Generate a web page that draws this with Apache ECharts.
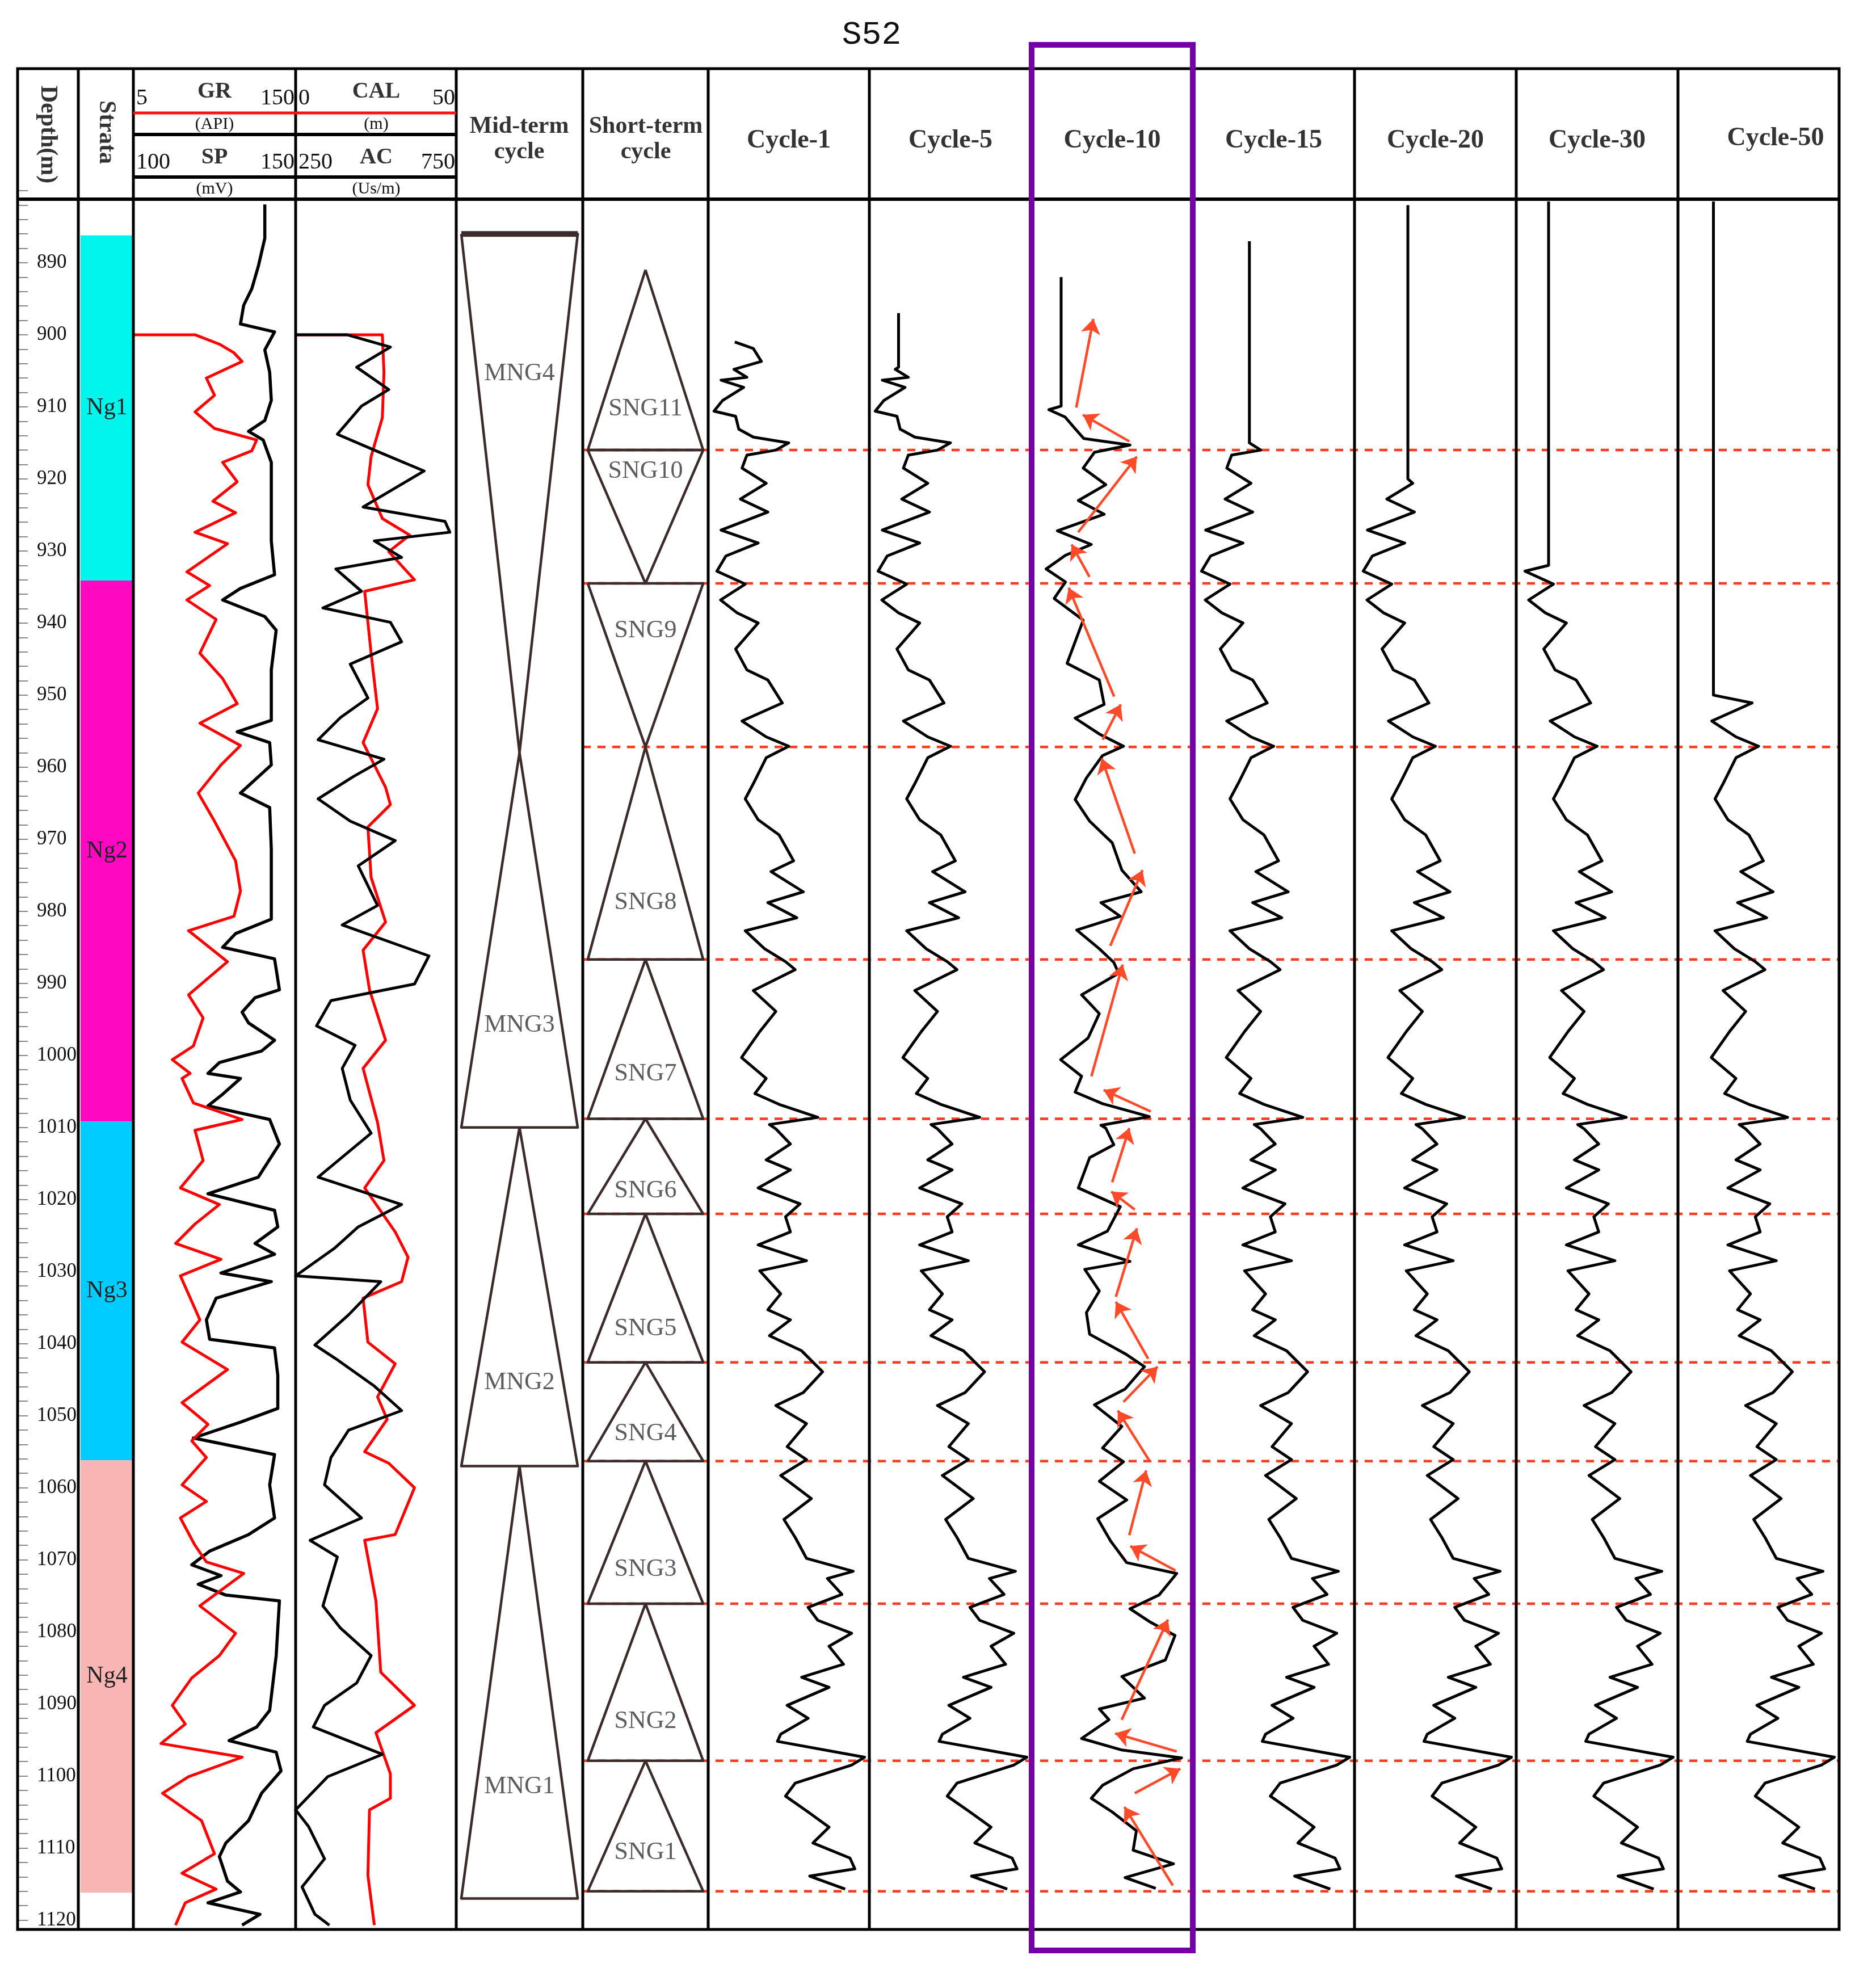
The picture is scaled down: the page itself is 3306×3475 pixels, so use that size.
<!DOCTYPE html>
<html><head><meta charset="utf-8">
<script src="https://cdn.jsdelivr.net/npm/echarts@6/dist/echarts.min.js"></script>
<style>html,body{margin:0;padding:0;background:#fff}#c{width:3306px;height:3475px}</style>
</head><body><div id="c"></div>
<script>
// ---------- DATA (depth m, value as % of track width) ----------
const depthTicks = [890,900,910,920,930,940,950,960,970,980,990,1000,1010,1020,1030,1040,1050,1060,1070,1080,1090,1100,1110,1120];
const strata = [['Ng1',886.2,934.1,'#00F5EC'],['Ng2',934.1,1009.2,'#FF08C2'],['Ng3',1009.2,1056.2,'#00CCFF'],['Ng4',1056.2,1116.2,'#F9B4B4']];
const spCurve = [[881.9,81],[886.6,81],[890.5,77],[893.6,73],[895.9,68],[898.5,66],[899.6,87],[902.1,81],[905.2,84],[909.1,85],[911.9,81],[913.4,71],[914.6,80],[917.7,85],[922.4,85],[928.6,85],[933.3,87],[935.2,66],[936.8,55],[939.1,81],[941,88],[946.5,85],[953.5,85],[955.1,64],[956.6,84],[959.7,85],[963.6,66],[965.6,84],[971.4,85],[981.1,85],[983.1,63],[985,55],[986.6,87],[990.9,90],[992,75],[994,67],[995.5,71],[997.9,87],[999.4,79],[1001,53],[1002.5,46],[1003.2,66],[1005.4,55],[1007,46],[1008.9,84],[1012.3,90],[1016.9,77],[1019.2,46],[1021.5,87],[1023.8,89],[1026.1,75],[1027.6,87],[1030.2,54],[1031.4,85],[1033.7,51],[1036.7,45],[1039.4,47],[1040.6,87],[1044.4,89],[1049,89],[1050.9,66],[1053.1,37],[1055.4,87],[1059.6,84],[1064.2,87],[1066.5,71],[1068.8,47],[1070.7,36],[1072.2,54],[1073.4,40],[1074.9,57],[1075.7,90],[1083.3,88],[1090.9,84],[1093.2,76],[1095.1,59],[1096.7,88],[1099.3,91],[1102.4,79],[1106.2,71],[1109.3,57],[1111.2,53],[1114.6,58],[1116.1,66],[1117.6,46],[1119.2,78],[1120.7,67]];
const grCurve = [[900,0],[900,38],[901.3,53],[902.5,62],[903.7,67],[906,45],[908.4,50],[910.7,38],[913,50],[914.6,76],[916.1,73],[917.7,55],[920.4,64],[923.1,49],[924.7,63],[927.4,38],[929,58],[932.9,33],[934.8,47],[936.8,33],[939.5,51],[944.2,41],[947.7,55],[951.2,64],[953.9,41],[957,66],[959.7,54],[963.6,40],[967.5,50],[973,63],[977.2,66],[980.7,62],[982.7,34],[987,58],[991.6,34],[994.8,43],[998.7,37],[1000.6,24],[1002.5,35],[1003.2,30],[1006.6,37],[1008.9,67],[1010.4,38],[1014.6,43],[1018.4,29],[1020.7,53],[1023.4,38],[1026.1,26],[1028.3,54],[1030.6,29],[1036.7,41],[1039.8,30],[1043.6,58],[1048.2,30],[1051.2,46],[1053.5,36],[1055.8,45],[1059.6,30],[1061.9,45],[1064.2,29],[1068,38],[1070.3,45],[1071.9,68],[1076.4,41],[1080.2,63],[1083.3,53],[1086.4,36],[1090.2,24],[1092.8,32],[1095.5,17],[1097.4,67],[1100.1,34],[1102.4,18],[1106.2,42],[1110.8,50],[1113.5,30],[1115.7,51],[1117.6,32],[1120.7,26]];
const acCurve = [[900,0],[900,32],[901.7,59],[904.5,38],[907.6,58],[909.9,41],[913.8,26],[916.1,50],[918.9,80],[923.9,42],[925.9,93],[927.4,96],[928.6,49],[930.9,66],[932.5,25],[935.6,41],[937.9,17],[939.9,59],[942.6,66],[945.7,34],[950.4,45],[953.1,28],[956.2,14],[958.9,55],[961.3,36],[964.4,14],[967.5,34],[970.2,62],[973.7,39],[979.2,51],[981.9,29],[986.2,83],[990.1,74],[992.4,22],[995.9,13],[998.6,37],[1001.8,29],[1006.2,34],[1010.8,47],[1016.9,14],[1020.7,66],[1023.8,39],[1026.8,24],[1030.6,0],[1031.4,53],[1036,33],[1040.2,12],[1042.1,25],[1045.9,49],[1049.3,66],[1052,33],[1055.8,22],[1059.6,18],[1064.2,41],[1067.3,9],[1069.6,26],[1074.1,20],[1076.4,17],[1079.5,28],[1083.3,47],[1087.1,38],[1090.2,18],[1093.2,11],[1097,54],[1100.1,20],[1104.7,0],[1107,8],[1111.5,18],[1115.4,4],[1119.2,12],[1120.7,21]];
const calCurve = [[900,0],[900,54],[905.2,55],[911.5,54],[916.9,47],[920.8,45],[925.5,54],[927.8,71],[930.1,58],[934,74],[935.6,43],[944.2,47],[951.9,51],[956.6,42],[962.8,56],[965.2,59],[968.3,45],[975.3,47],[981.5,56],[985.4,42],[990.9,46],[997.9,56],[1001.8,42],[1009.3,51],[1014.6,55],[1018.4,43],[1024.5,62],[1028,70],[1031.4,66],[1033.7,42],[1039.8,45],[1042.8,62],[1047.4,51],[1050.5,57],[1055,43],[1056.6,58],[1060,74],[1066.5,62],[1067.3,43],[1075.7,50],[1085.6,53],[1090.2,74],[1094,50],[1099.7,59],[1103.1,59],[1104.7,46],[1113.8,45],[1120.7,49]];
const midCycles = [['MNG4',886,958,'down',905.4],['MNG3',958,1010,'up',995.8],['MNG2',1010,1057,'up',1045.4],['MNG1',1057,1117,'up',1101.5]];
const shortCycles = [['SNG11',891,916,'up',910.3],['SNG10',916,934.5,'down',918.9],['SNG9',934.5,957.2,'down',941.1],['SNG8',957.2,986.7,'up',978.8],['SNG7',986.7,1008.8,'up',1002.6],['SNG6',1008.8,1022,'up',1018.8],['SNG5',1022,1042.6,'up',1037.9],['SNG4',1042.6,1056.3,'up',1052.5],['SNG3',1056.3,1076.1,'up',1071.3],['SNG2',1076.1,1097.9,'up',1092.4],['SNG1',1097.9,1116,'up',1110.6]];
const boundaries = [916,934.5,957.2,986.7,1008.8,1022,1042.6,1056.3,1076.1,1097.9,1116];
const cycle1Curve = [[901,16.5],[901.9,28],[903.7,33],[904.8,16],[905.9,24],[906.3,8],[907.3,22],[909.1,9],[910.6,3.6],[911.3,17],[913.1,19],[914.2,28],[915,50],[916,42],[916.7,24],[918.5,21],[920.6,36],[922.8,20],[924.6,37],[927.1,8],[928.9,31],[930.7,11],[932.8,5.4],[934.6,23],[936.8,7.7],[938.6,18],[940,31],[943.6,17],[946.5,24],[947.9,37],[951.1,46],[953.6,21],[955.8,36],[957.1,50],[958.7,36],[962.3,28],[964.4,23],[967.3,31],[969.4,44],[973,53],[974.5,39],[977.3,59],[978.8,37],[980.9,55],[982.7,23],[985.2,35],[987,48],[988.1,54],[991,28],[993.9,42],[996.7,32],[1000.3,20.7],[1003.2,36],[1005.3,29],[1006.8,44],[1008.6,68],[1009.6,38],[1010.2,42],[1012.3,51],[1014.5,36],[1015.9,51],[1018.4,31],[1020.6,57],[1022.4,48],[1024.5,51],[1026.3,31],[1028.5,61],[1029.9,32],[1033.1,45],[1035.3,37],[1036.7,51],[1038.9,38],[1041,58],[1043.9,71],[1046.8,59],[1048.6,42],[1051.1,61],[1054.3,49],[1056.1,61],[1058.3,45],[1061.5,64],[1064.4,47],[1066.9,54],[1069.8,61],[1071.6,90],[1072.6,74],[1074.8,83],[1076.6,62],[1078.4,68],[1080.2,89],[1082,75],[1084.5,84],[1086.3,58],[1087.7,75],[1090.2,49],[1092,62],[1094.2,45],[1095.2,43],[1097.4,97],[1098.5,89],[1101,54],[1102.8,48],[1105,62],[1107.1,75],[1109.3,65],[1111.4,88],[1112.9,91],[1113.9,63],[1115.7,85]];
const cycle10Curve = [[892,18.3],[909.9,18.3],[910.4,10.7],[911.4,20.7],[912.9,26.5],[914.4,32.4],[915.3,61],[916.3,39],[918.5,32],[920.8,46],[923,29],[924.9,45],[927.2,16],[929.1,37],[930.6,21],[932.5,9],[934.3,21],[936.6,14],[939.6,32],[942.6,27],[945.6,22],[947.9,42],[951.3,45],[953.2,27],[955.4,42],[957.1,57],[958.4,44],[961.5,34],[964.5,27],[967.5,36],[970.5,50],[974.3,56],[977.3,68],[978.8,43],[980.7,55],[982.6,28],[985.2,42],[987.1,51],[988.6,54],[991.6,31],[994.2,42],[997.6,35],[1000.6,18],[1002.9,31],[1005.1,27],[1006.7,44],[1008.5,73],[1009.7,43],[1010.1,46],[1012.4,51],[1014.2,36],[1018.4,29],[1021,55],[1024.4,47],[1026.3,29],[1028.6,61],[1029.7,33],[1032.7,42],[1035.7,34],[1038.7,36],[1041.4,58],[1043.2,70],[1046.3,58],[1048.5,39],[1051.5,56],[1054.5,44],[1056.4,57],[1059.1,42],[1061.7,59],[1064.3,41],[1067.4,49],[1070.4,59],[1071.9,90],[1074.9,79],[1076.8,61],[1078.7,74],[1080.5,89],[1083.9,83],[1086.2,56],[1089.2,70],[1090.7,42],[1092.2,48],[1094.8,31],[1096.4,56],[1097.5,93],[1099,63],[1101.3,44],[1103.1,37],[1105,50],[1107.6,65],[1110.3,63],[1112.2,88],[1114.1,58],[1115.6,77]];
// other cycles: [name, top of flat line, depth where flat line joins curve, flat value]
const cycleFlat = [['Cycle-5',897,904.5,18],['Cycle-15',887,915,35],['Cycle-20',882,920,33],['Cycle-30',881.5,932,20],['Cycle-50',881.5,950,22]];
// cycle-10 arrows: [tailDepth, tailValue, headDepth, headValue]
const arrows10 = [[910.1,27.7,897.8,38.3],[914.8,60.6,911.1,31.8],[927.4,28.9,916.9,65.3],[933.6,35.9,929.1,24.8],[950.2,51.2,935.1,23],[956.2,44.1,951.3,55.3],[972,64,958.8,43.5],[984.8,48.8,974.3,68.8],[1002.9,37.1,987.4,56.5],[1007.8,74,1004.8,44.7],[1017.6,50,1010.1,60.6],[1021.4,64,1018.9,49.4],[1033.5,52.3,1024,65.3],[1042.1,72.3,1034.2,52.3],[1048.1,57,1043.2,78.2],[1056.4,73.5,1049.3,53.5],[1066.6,60.6,1057.6,71.1],[1071.5,89.3,1068.1,61.2],[1092.2,55.9,1078.3,84.6],[1096.6,90,1094.1,51.8],[1102.4,64,1099,92.3],[1115.2,87.6,1104.3,57.6]];
const cycleNames = ['Cycle-1','Cycle-5','Cycle-10','Cycle-15','Cycle-20','Cycle-30','Cycle-50'];

// ---------- LAYOUT ----------
const colX = [31,138,235,521,804,1027,1248,1532,1818,2102,2387,2672,2957,3241];
const TOP=121, HB=351, BOT=3400, GTOP=336, GH=BOT-GTOP;
const DMIN=880, DMAX=1121.3;
const grids=[], xAxes=[], yAxes=[], series=[];
function addGrid(l,r){
  const i=grids.length;
  grids.push({left:l,top:GTOP,width:r-l,height:GH,show:false});
  xAxes.push({gridIndex:i,type:'value',min:0,max:100,show:false});
  yAxes.push({gridIndex:i,type:'value',min:DMIN,max:DMAX,inverse:true,show:false});
  return i;
}
const pts = c => c.map(p=>[p[1],p[0]]);
function line(gi,data,color,w,extra){series.push(Object.assign({type:'line',xAxisIndex:gi,yAxisIndex:gi,data,showSymbol:false,symbol:'none',silent:true,animation:false,lineStyle:{color,width:w,join:'round'},z:5},extra||{}));}

// depth column
const gD=addGrid(colX[0],colX[1]);
yAxes[gD]=Object.assign(yAxes[gD],{show:true,interval:10,axisLine:{show:false},splitLine:{show:false},
  axisTick:{show:true,inside:true,length:18,lineStyle:{color:'#888',width:2}},
  minorTick:{show:true,splitNumber:5,length:18,lineStyle:{color:'#888',width:2}},
  axisLabel:{inside:true,margin:34,showMaxLabel:false,fontFamily:'Liberation Serif',fontSize:35,color:'#111',
    formatter:v=>depthTicks.includes(v)?String(v):''}});
line(gD,[],'#000',1);

// strata
const gS=addGrid(colX[1]+4,colX[2]);
series.push({type:'line',xAxisIndex:gS,yAxisIndex:gS,data:[],animation:false,
  markArea:{silent:true,data:strata.map(s=>[{yAxis:s[1],name:s[0],itemStyle:{color:s[3]}},{yAxis:s[2]}]),
  label:{show:true,position:'inside',fontFamily:'Liberation Serif',fontSize:42,color:'#222'}}});

// logs
const gG=addGrid(colX[2],colX[3]);
line(gG,pts(spCurve),'#000',5.5);
line(gG,pts(grCurve),'#FF0000',5);
const gC=addGrid(colX[3],colX[4]);
line(gC,pts(calCurve),'#FF0000',5);
line(gC,pts(acCurve),'#000',5);

// cycles (mid / short)
function tri(t){const top=t[1],bot=t[2];
  return t[3]==='up'?[[50,top],[4,bot],[96,bot],[50,top]]:[[4,top],[96,top],[50,bot],[4,top]];}
function cycleCol(gi,list,thickTop){
  list.forEach((t,i)=>{
    line(gi,tri(t),'#3b2b2b',4.5);
    if(thickTop && t[3]==='down' && i===0) line(gi,[[4,t[1]],[96,t[1]]],'#3b2b2b',10);
  });
  series.push({type:'scatter',xAxisIndex:gi,yAxisIndex:gi,symbolSize:0,animation:false,silent:true,
    data:list.map(t=>({value:[50,t[4]],name:t[0]})),z:6,
    label:{show:true,position:'inside',formatter:p=>p.name,fontFamily:'Liberation Serif',fontSize:44,color:'#333'}});
}
const gM=addGrid(colX[4],colX[5]); cycleCol(gM,midCycles,true);
const gSh=addGrid(colX[5],colX[6]); cycleCol(gSh,shortCycles,false);

// dashed boundaries overlay
const gO=addGrid(colX[5],colX[13]);
boundaries.forEach(b=>line(gO,[[0,b],[100,b]],'#FF3B1F',4,{lineStyle:{color:'#FF3B1F',width:4.5,type:[14,12]},z:3}));

// cycle tracks
cycleNames.forEach((n,k)=>{
  const gi=addGrid(colX[6+k],colX[7+k]);
  if(n==='Cycle-1'){line(gi,pts(cycle1Curve),'#000',5);}
  else if(n==='Cycle-10'){
    line(gi,pts(cycle10Curve),'#000',5);
    series.push({type:'lines',coordinateSystem:'cartesian2d',xAxisIndex:gi,yAxisIndex:gi,animation:false,silent:true,z:7,
      symbol:['none','arrow'],symbolSize:[0,26],lineStyle:{color:'#FF4A2A',width:4.5,opacity:1},
      data:arrows10.map(a=>({coords:[[a[1],a[0]],[a[3],a[2]]]}))});
  } else {
    const f=cycleFlat.find(c=>c[0]===n);
    const d=[[f[3],f[1]],[f[3],f[2]]].concat(pts(cycle1Curve.filter(p=>p[0]>f[2])));
    line(gi,d,'#000',5);
  }
});

// ---------- frame graphics ----------
const G=[];
const L=(x1,y1,x2,y2,w,c)=>G.push({type:'line',shape:{x1,y1,x2,y2},style:{stroke:c||'#000',lineWidth:w},z:50});
const T=(x,y,text,o)=>G.push(Object.assign({type:'text',x,y,style:Object.assign({text,fill:'#333',font:'bold 42px "Liberation Serif"',textAlign:'center',textVerticalAlign:'middle'},o||{})},{z:60}));
G.push({type:'rect',shape:{x:colX[0],y:TOP,width:colX[13]-colX[0],height:BOT-TOP},style:{fill:'none',stroke:'#000',lineWidth:5},z:50});
colX.slice(1,13).forEach(x=>L(x,TOP,x,BOT,5));
L(colX[0],HB,colX[13],HB,6);
L(colX[2],237,colX[4],237,6); L(colX[2],312,colX[4],312,6);
L(colX[2],199,colX[4],199,5,'#FF1010');
// header texts
G.push({type:'text',x:84,y:237,rotation:-Math.PI/2,style:{text:'Depth(m)',font:'bold 42px "Liberation Serif"',fill:'#333',textAlign:'center',textVerticalAlign:'middle'},z:60});
G.push({type:'text',x:187,y:233,rotation:-Math.PI/2,style:{text:'Strata',font:'bold 42px "Liberation Serif"',fill:'#333',textAlign:'center',textVerticalAlign:'middle'},z:60});
const num={font:'40px "Liberation Serif"',fill:'#111'};
T(240,173,'5',Object.assign({textAlign:'left'},num)); T(378,162,'GR',{font:'bold 40px "Liberation Serif"'}); T(519,173,'150',Object.assign({textAlign:'right'},num));
T(378,219,'(API)',{font:'30px "Liberation Serif"',fill:'#111'});
T(240,286,'100',Object.assign({textAlign:'left'},num)); T(378,278,'SP',{font:'bold 40px "Liberation Serif"'}); T(519,286,'150',Object.assign({textAlign:'right'},num));
T(378,333,'(mV)',{font:'30px "Liberation Serif"',fill:'#111'});
T(526,173,'0',Object.assign({textAlign:'left'},num)); T(663,162,'CAL',{font:'bold 40px "Liberation Serif"'}); T(802,173,'50',Object.assign({textAlign:'right'},num));
T(663,219,'(m)',{font:'30px "Liberation Serif"',fill:'#111'});
T(526,286,'250',Object.assign({textAlign:'left'},num)); T(663,278,'AC',{font:'bold 40px "Liberation Serif"'}); T(802,286,'750',Object.assign({textAlign:'right'},num));
T(663,333,'(Us/m)',{font:'30px "Liberation Serif"',fill:'#111'});
T(915,223,'Mid-term'); T(915,268,'cycle');
T(1138,223,'Short-term'); T(1138,268,'cycle');
cycleNames.forEach((n,k)=>T((colX[6+k]+colX[7+k])/2+(k===6?30:0),k===6?244:248,n,{font:'bold 46px "Liberation Serif"'}));
T(1536,62,'S52',{font:'58px "Liberation Mono"',fill:'#111'});
G.push({type:'rect',shape:{x:1818,y:79,width:284,height:3358},style:{fill:'none',stroke:'#7400A8',lineWidth:10},z:70});

const chart=echarts.init(document.getElementById('c'),null,{renderer:'canvas'});
chart.setOption({animation:false,backgroundColor:'#fff',grid:grids,xAxis:xAxes,yAxis:yAxes,series,graphic:G});
</script></body></html>
